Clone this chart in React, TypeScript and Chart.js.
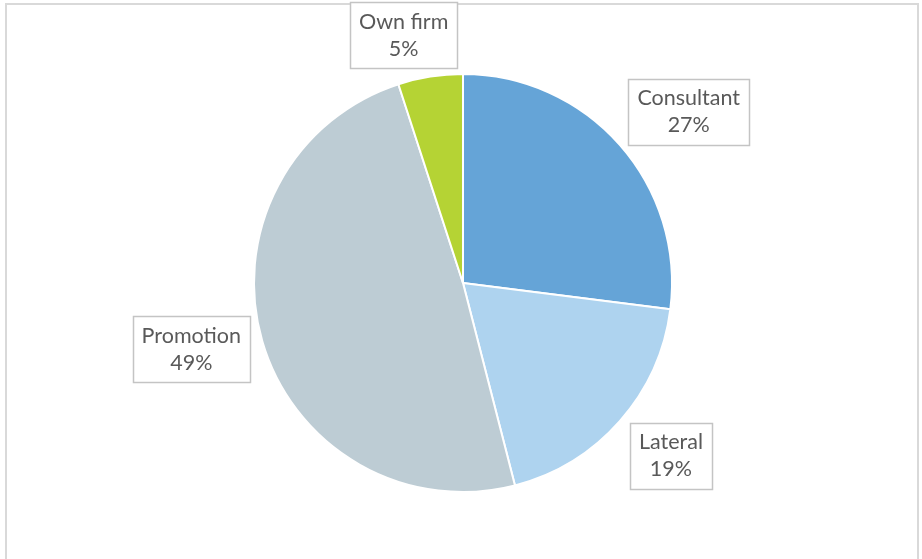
import React, { useEffect, useRef } from "react";
import { Chart, registerables } from "chart.js";

Chart.register(...registerables);

const categories = ["Consultant", "Lateral", "Promotion", "Own firm"];
const values = [27, 19, 49, 5];
const colors = ["#65A4D7", "#AED3EF", "#BDCCD4", "#B5D334"];
// label box centre, relative to pie centre, in units of the pie radius
const labelOffsetX = [1.08, 0.995, -1.30, -0.284];
const labelOffsetY = [-0.82, 0.827, 0.317, -1.185];

const FONT = "Lato, 'Open Sans', sans-serif";

const labelPlugin = {
  id: "boxLabels",
  afterDatasetsDraw(chart: any) {
    const ctx = chart.ctx as CanvasRenderingContext2D;
    const meta = chart.getDatasetMeta(0);
    const data = chart.data.datasets[0].data as number[];
    const total = data.reduce((a, b) => a + b, 0);
    ctx.save();
    ctx.font = `21.5px ${FONT}`;
    ctx.textAlign = "center";
    ctx.textBaseline = "middle";
    const lineH = 27;
    meta.data.forEach((arc: any, i: number) => {
      const { x, y, outerRadius } = arc.getProps(["x", "y", "outerRadius"], true);
      const cx = x + labelOffsetX[i] * outerRadius;
      const cy = y + labelOffsetY[i] * outerRadius;
      const l1 = String(chart.data.labels[i]);
      const l2 = Math.round((data[i] / total) * 100) + "%";
      const w = Math.max(ctx.measureText(l1).width, ctx.measureText(l2).width) + 18;
      const h = lineH * 2 + 12;
      ctx.fillStyle = "#ffffff";
      ctx.fillRect(cx - w / 2, cy - h / 2, w, h);
      ctx.strokeStyle = "#c4c4c4";
      ctx.lineWidth = 1.5;
      ctx.strokeRect(Math.round(cx - w / 2) + 0.5, Math.round(cy - h / 2) + 0.5, Math.round(w), Math.round(h));
      ctx.fillStyle = "#595959";
      ctx.fillText(l1, cx, cy - lineH / 2);
      ctx.fillText(l2, cx, cy + lineH / 2);
    });
    ctx.restore();
  },
};

export default function App() {
  const ref = useRef<HTMLCanvasElement | null>(null);
  useEffect(() => {
    if (!ref.current) return;
    const chart = new Chart(ref.current, {
      type: "pie",
      data: {
        labels: categories,
        datasets: [
          {
            data: values,
            backgroundColor: colors,
            borderColor: "#ffffff",
            borderWidth: 2,
            hoverOffset: 0,
          },
        ],
      },
      options: {
        animation: false,
        responsive: false,
        maintainAspectRatio: false,
        layout: { padding: { left: 253, right: 249, top: 73, bottom: 66 } },
        plugins: {
          legend: { display: false },
          tooltip: { enabled: false },
        },
      },
      plugins: [labelPlugin],
    });
    return () => chart.destroy();
  }, []);
  return (
    <div style={{ position: "fixed", left: 0, top: 0, width: 922, height: 559, background: "#fff", overflow: "hidden" }}>
      <div
        style={{
          position: "absolute",
          left: 5,
          top: 3,
          width: 914,
          height: 600,
          border: "2px solid #d9d9d9",
          boxSizing: "border-box",
        }}
      />
      <canvas ref={ref} width={922} height={559} style={{ position: "absolute", left: 0, top: 0, width: 922, height: 559 }} />
    </div>
  );
}
